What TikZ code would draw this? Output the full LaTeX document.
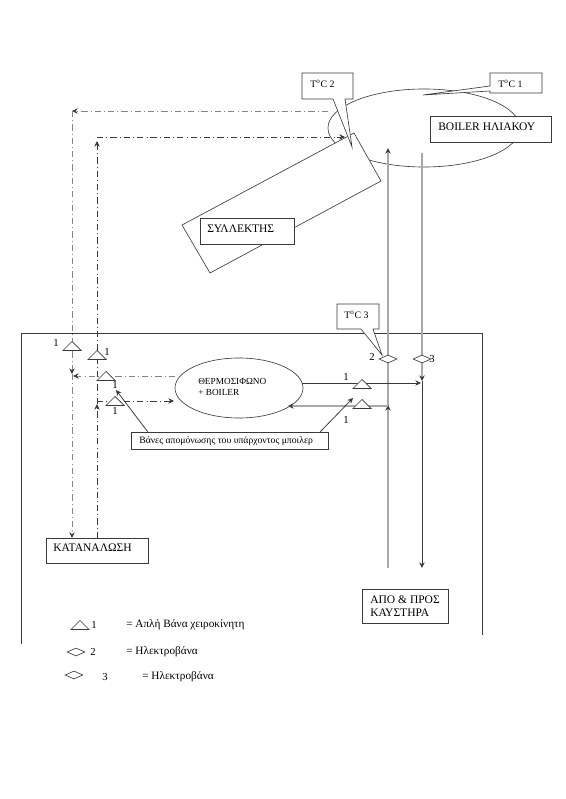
\documentclass[tikz,border=0pt]{standalone}
\usepackage{fontspec}
\usepackage{xcolor}
\usetikzlibrary{arrows.meta, positioning, shapes.geometric, calc}
\setmainfont{Liberation Serif}
\definecolor{LineDark}{HTML}{3A3A3A}
\definecolor{LineGray}{HTML}{A8A8A8}
\begin{document}
\begin{tikzpicture}[
    x=0.025cm, y=-0.025cm,
    box/.style={draw=LineDark, fill=white, line width=0.5pt, inner sep=0pt},
    txt/.style={inner sep=0pt, font=\fontsize{8.2}{10}\selectfont},
    small/.style={inner sep=0pt, font=\fontsize{7}{8}\selectfont},
    keytext/.style={inner sep=0pt, font=\fontsize{8}{10}\selectfont},
    digit/.style={inner sep=0pt, font=\fontsize{7.6}{9}\selectfont},
    pipe/.style={draw=LineDark, line width=0.45pt},
    riser/.style={draw=LineGray, line width=0.8pt},
    flow/.style={draw=LineDark, line width=0.4pt, dash pattern=on 4.5pt off 2.2pt on 0.6pt off 2.2pt},
    flowgray/.style={draw=LineGray!80!black, line width=0.45pt, dash pattern=on 4.5pt off 2.2pt on 0.6pt off 2.2pt},
    tip/.style={-{Stealth[length=4pt,width=3.8pt,color=LineDark]}},
    valve/.style={draw=LineDark, fill=white, line width=0.45pt, isosceles triangle, isosceles triangle apex angle=90, shape border rotate=90, minimum height=0.225cm, inner sep=0pt, anchor=apex},
    elvalve/.style={draw=LineDark, fill=white, line width=0.45pt, diamond, aspect=2.2, minimum width=0.45cm, minimum height=0.2cm, inner sep=0pt}
]
\useasboundingbox (0,0) rectangle (565,799);

% === Boiler and collector ===
\node[draw=LineDark, line width=0.45pt, ellipse, minimum width=4.8cm, minimum height=1.95cm, inner sep=0pt] (tank) at (424,128) {};
\draw[pipe, fill=white] (182,225) -- (354,133) -- (381,181) -- (210,273) -- cycle;
\draw[pipe, fill=white] (333,99) -- (352,147) -- (345,99) -- (353,99) -- (353,73) -- (302,73) -- (302,99) -- cycle;
\draw[pipe, fill=white] (423,95) -- (490,91) -- (490,93) -- (542,93) -- (542,73) -- (490,73) -- (490,86) -- cycle;
\node[small, anchor=west] (sensorb) at (310,84) {T\textsuperscript{o}C 2};
\node[small, anchor=west] (sensora) at (498,84) {T\textsuperscript{o}C 1};
\node[box, minimum width=3.025cm, minimum height=0.65cm] (boiler) at (490.5,129) {};
\node[txt, anchor=west] (boilertext) at (438,127) {BOILER ΗΛΙΑΚΟΥ};
\node[box, minimum width=2.35cm, minimum height=0.65cm] (collector) at (247,231) {};
\node[txt, anchor=west] (collectortext) at (207,229) {ΣΥΛΛΕΚΤΗΣ};

% === Outer frame ===
\draw[pipe, line width=0.6pt] (21,644) -- (21,333) -- (482,333) -- (482,635);

% === Lower boxes ===
\node[draw=LineDark, line width=0.45pt, ellipse, minimum width=3.2cm, minimum height=1.5cm, inner sep=0pt] (heater) at (239,388) {};
\node[small, anchor=west, font=\fontsize{6.6}{8}\selectfont] (heatertext) at (198,381) {ΘΕΡΜΟΣΙΦΩΝΟ};
\node[small, anchor=west, font=\fontsize{6.6}{8}\selectfont] (heaterplus) at (198,392) {+ BOILER};
\node[box, minimum width=2.55cm, minimum height=0.625cm] (usebox) at (97,550.5) {};
\node[txt, anchor=west] (usetext) at (53,548) {ΚΑΤΑΝΑΛΩΣΗ};
\node[box, minimum width=2.15cm, minimum height=0.85cm] (burner) at (405,606) {};
\node[txt, anchor=west] (burnertext) at (370,600) {ΑΠΟ \& ΠΡΟΣ};
\node[txt, anchor=west] (burnertextb) at (370,613) {ΚΑΥΣΤΗΡΑ};

% === Free ends ===
\coordinate (hotstart) at (328,111);
\coordinate (hotcorner) at (72,111);
\coordinate (hotmid) at (72,374);
\coordinate (hotend) at (72,538);
\coordinate (coldstart) at (97,538);
\coordinate (coldcorner) at (97,137);
\coordinate (coldend) at (345,137);
\coordinate (branchleft) at (73,376);
\coordinate (branchstart) at (175,376);
\coordinate (returnstart) at (97,401);
\coordinate (returnend) at (174,401);
\coordinate (upbottom) at (388,568);
\coordinate (uptop) at (388,148);
\coordinate (downtop) at (422,153);
\coordinate (downmid) at (422,381);
\coordinate (downend) at (422,568);

% === Dash-dot circuit ===
\draw[flowgray, tip] (hotstart) -- (hotcorner);
\draw[flowgray, tip] (hotcorner) -- (hotmid);
\draw[flowgray, tip] (hotmid) -- (hotend);
\draw[flow, tip] (coldstart) -- (97,404);
\draw[flow, tip] (97,404) -- (97,141);
\draw[flow, tip] (coldcorner) -- (coldend);
\draw[flowgray, tip] (branchstart) -- (branchleft);
\draw[flow, tip] (returnstart) -- (returnend);

% === Pipes to the burner ===
\draw[riser, tip] (upbottom) -- (uptop);
\draw[riser, tip] (388,410) -- (388,405);
\draw[riser, tip] (downtop) -- (downmid);
\draw[pipe, tip] (downmid) -- (downend);
\draw[pipe, tip] (302,383) -- (421,383);
\draw[riser, tip] (388,406) -- (288,406);

% === Valves ===
\node[valve] (va) at (72,341) {};
\node[valve] (vb) at (97,350) {};
\node[valve] (vc) at (106,371) {};
\node[valve] (vd) at (115,396) {};
\node[valve] (ve) at (362,379) {};
\node[valve] (vf) at (362,399) {};
\node[elvalve] (eva) at (388,359) {};
\node[elvalve] (evb) at (422,359) {};

\node[digit] (la) at (56,343) {1};
\node[digit] (lb) at (107,352) {1};
\node[digit] (lc) at (115,385) {1};
\node[digit] (ld) at (115,411) {1};
\node[digit] (le) at (346,377) {1};
\node[digit] (lf) at (346,420) {1};
\node[digit] (lg) at (372,357) {2};
\node[digit] (lh) at (432,359) {3};

% === T3 sensor ===
\draw[pipe, fill=white] (361,329) -- (382,355) -- (373,329) -- (379,329) -- (379,304) -- (337,304) -- (337,329) -- cycle;
\node[small, anchor=west] (sensorc) at (344,315) {T\textsuperscript{o}C 3};

% === Isolating valves note ===
\node[box, minimum width=4.925cm, minimum height=0.425cm] (note) at (229.5,440.5) {};
\node[small, anchor=west, font=\fontsize{6.9}{8}\selectfont] (notetext) at (139,441) {Βάνες απομόνωσης του υπάρχοντος μποιλερ};
\draw[pipe, line width=0.55pt, tip] ($(note.north west)+(17,0)$) -- (116,390);
\draw[pipe, line width=0.55pt, tip] ($(note.north east)+(-8,0)$) -- (353,398);

% === Legend ===
\node[valve] (keya) at (80,620) {};
\node[digit] (keyal) at (94,625) {1};
\node[keytext, anchor=west] (keyat) at (126,625) {= Απλή Βάνα χειροκίνητη};
\node[elvalve] (keyb) at (76,652) {};
\node[digit] (keybl) at (93,652) {2};
\node[keytext, anchor=west] (keybt) at (126,652) {= Ηλεκτροβάνα};
\node[elvalve] (keyc) at (74,675) {};
\node[digit] (keycl) at (105,677) {3};
\node[keytext, anchor=west] (keyct) at (142,677) {= Ηλεκτροβάνα};
\end{tikzpicture}
\end{document}
